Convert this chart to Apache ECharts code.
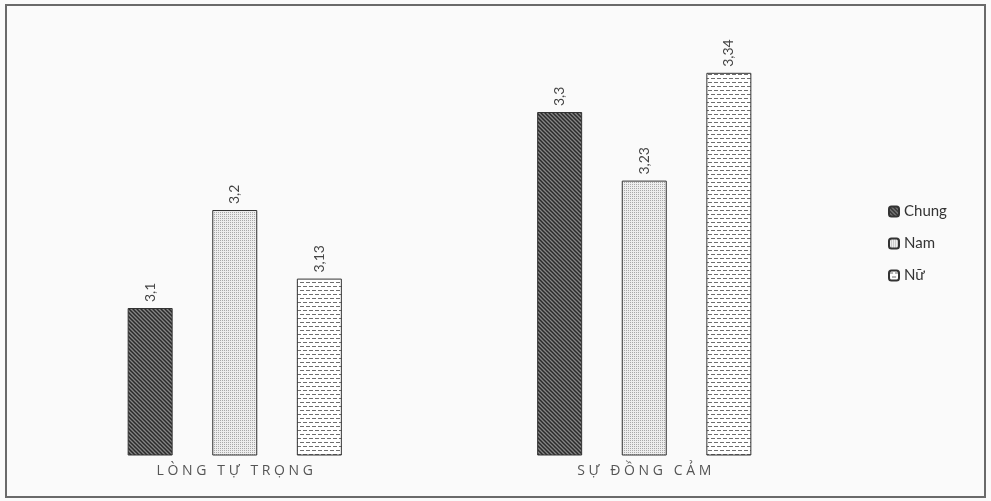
<!DOCTYPE html>
<html>
<head>
<meta charset="utf-8">
<script src="https://cdn.jsdelivr.net/npm/echarts@6/dist/echarts.min.js"></script>
<style>
    html, body { margin: 0; padding: 0; background: #fafafa; }
    #chart { width: 991px; height: 501px; }
</style>
</head>
<body>
<div id="chart"></div>
<script>
    // data
    const categories = ['LÒNG TỰ TRỌNG', 'SỰ ĐỒNG CẢM'];
    const seriesNames = ['Chung', 'Nam', 'Nữ'];
    const chungValues = [3.1, 3.3];
    const namValues = [3.2, 3.23];
    const nuValues = [3.13, 3.34];

    // small canvas tiles for the bar fills
    function makeTile(w, h, draw) {
        let c = document.createElement('canvas');
        c.width = w;
        c.height = h;
        draw(c.getContext('2d'));
        return c;
    }

    // dark diagonal hatch
    let hatch = makeTile(4, 4, (ctx) => {
        ctx.fillStyle = '#858585';
        ctx.fillRect(0, 0, 4, 4);
        ctx.strokeStyle = '#2a2a2a';
        ctx.lineWidth = 1.5;
        ctx.beginPath();
        ctx.moveTo(-1, -1); ctx.lineTo(5, 5);
        ctx.moveTo(-1, 3); ctx.lineTo(1, 5);
        ctx.moveTo(3, -1); ctx.lineTo(5, 1);
        ctx.stroke();
    });

    // fine dots
    let dots = makeTile(2, 2, (ctx) => {
        ctx.fillStyle = '#ededed';
        ctx.fillRect(0, 0, 2, 2);
        ctx.fillStyle = '#a8a8a8';
        ctx.fillRect(0, 0, 1, 1);
    });

    // brick of short dashes
    let dashes = makeTile(12, 8, (ctx) => {
        ctx.fillStyle = '#ffffff';
        ctx.fillRect(0, 0, 12, 8);
        ctx.fillStyle = '#6e6e6e';
        ctx.fillRect(0, 2, 4, 1);
        ctx.fillRect(6, 2, 4, 1);
        ctx.fillRect(3, 6, 4, 1);
        ctx.fillRect(9, 6, 3, 1);
        ctx.fillRect(0, 6, 1, 1);
    });

    let fills = [hatch, dots, dashes];
    let dataList = [chungValues, namValues, nuValues];

    let series = seriesNames.map((name, i) => {
        return {
            name: name,
            type: 'bar',
            barWidth: 45,
            barGap: '88%',
            data: dataList[i],
            itemStyle: {
                color: {image: fills[i], repeat: 'repeat'},
                borderColor: '#333',
                borderWidth: 1
            },
            label: {
                show: true,
                position: 'top',
                rotate: 90,
                align: 'left',
                verticalAlign: 'middle',
                distance: 6,
                fontFamily: 'Lato',
                fontSize: 14,
                color: '#444',
                formatter: (p) => String(p.value).replace('.', ',')
            }
        };
    });

    let myChart = echarts.init(document.getElementById('chart'));
    let option = {
        backgroundColor: '#fafafa',
        animation: false,
        textStyle: {
            fontFamily: 'Lato'
        },
        graphic: [{
            type: 'rect',
            shape: {x: 6, y: 5, width: 979, height: 492},
            style: {fill: 'none', stroke: '#6a6a6a', lineWidth: 2},
            silent: true
        }],
        grid: {
            left: 30,
            width: 819,
            top: 14,
            bottom: 46
        },
        legend: {
            orient: 'vertical',
            left: 883,
            top: 199,
            itemWidth: 10,
            itemHeight: 10,
            itemGap: 17,
            data: seriesNames,
            textStyle: {
                fontSize: 15,
                color: '#333',
                fontFamily: 'Lato'
            }
        },
        xAxis: {
            type: 'category',
            data: categories,
            axisLine: {show: false},
            axisTick: {show: false},
            axisLabel: {
                margin: 9,
                fontSize: 14,
                color: '#555',
                fontFamily: 'Open Sans',
                formatter: (v) => v.split('').join(' ')
            }
        },
        yAxis: {
            type: 'value',
            min: 2.95,
            max: 3.4,
            show: false
        },
        series: series
    };
    myChart.setOption(option);
</script>
</body>
</html>
